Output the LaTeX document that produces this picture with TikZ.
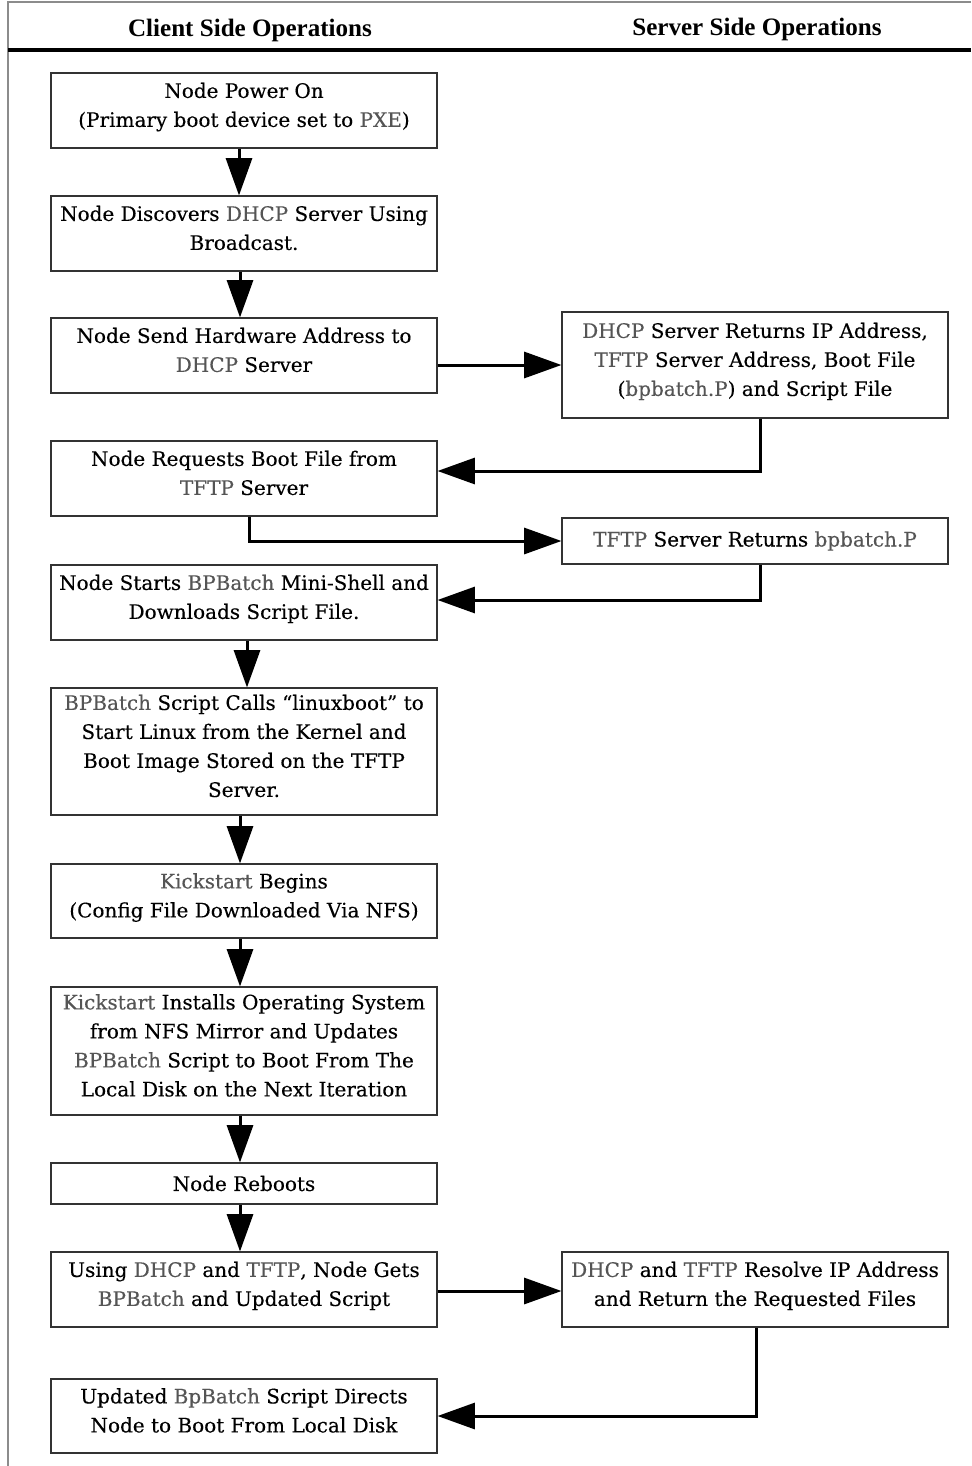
\documentclass[tikz,border=0pt]{standalone}
\usepackage{fontspec}
\setmainfont{DejaVu Serif}[FakeBold=0.3]
\newfontfamily\hdfont{Liberation Serif}
\usetikzlibrary{arrows.meta,calc}
\definecolor{hlgray}{RGB}{85,85,85}
\definecolor{framegray}{RGB}{140,140,140}
\newcommand\hlt[1]{\textcolor{hlgray}{#1}}
\newcommand\bstrut{\rule[-8.5pt]{0pt}{0pt}}
\begin{document}
\begin{tikzpicture}[x=0.75pt,y=-0.75pt,
  box/.style={draw=black!80, line width=0.8pt, minimum width=289.5pt, inner sep=0pt, align=center, font=\fontsize{15}{21.75}\selectfont},
  arr/.style={line width=2.25pt, -{Triangle[length=28pt,width=19.5pt]}},
  hd/.style={font=\hdfont\bfseries\fontsize{18.8}{22}\selectfont}]
\useasboundingbox (0,0) rectangle (971,1466);
% frame
\draw[framegray, line width=1.5pt] (8,1466) -- (8,2) -- (971,2);
\draw[line width=3pt] (8,50) -- (971,50);
\node[hd] (hc) at (250,30) {Client Side Operations};
\node[hd] (hs) at (757,29) {Server Side Operations};
% left column
\node[box, minimum height=56.25pt] (b1) at (244,110.5) {Node Power On\\(Primary boot device set to \hlt{PXE})\bstrut};
\node[box, minimum height=56.25pt] (b2) at (244,233.5) {Node Discovers \hlt{DHCP} Server Using\\Broadcast.\bstrut};
\node[box, minimum height=56.25pt] (b3) at (244,355.5) {Node Send Hardware Address to\\\hlt{DHCP} Server\bstrut};
\node[box, minimum height=56.25pt] (b4) at (244,478.5) {Node Requests Boot File from\\\hlt{TFTP} Server\bstrut};
\node[box, minimum height=56.25pt] (b5) at (244,602.5) {Node Starts \hlt{BPBatch} Mini-Shell and\\Downloads Script File.\bstrut};
\node[box, minimum height=95.25pt] (b6) at (244,751.5) {\hlt{BPBatch} Script Calls “linuxboot” to\\Start Linux from the Kernel and\\Boot Image Stored on the TFTP\\Server.\bstrut};
\node[box, minimum height=55.5pt] (b7) at (244,901) {\hlt{Kickstart} Begins\\(Config File Downloaded Via NFS)\bstrut};
\node[box, minimum height=96pt] (b8) at (244,1051) {\hlt{Kickstart} Installs Operating System\\from NFS Mirror and Updates\\\hlt{BPBatch} Script to Boot From The\\Local Disk on the Next Iteration\bstrut};
\node[box, minimum height=30.75pt] (b9) at (244,1183.5) {Node Reboots};
\node[box, minimum height=56.25pt] (b10) at (244,1289.5) {Using \hlt{DHCP} and \hlt{TFTP}, Node Gets\\\hlt{BPBatch} and Updated Script\bstrut};
\node[box, minimum height=55.5pt] (b11) at (244,1416) {Updated \hlt{BpBatch} Script Directs\\Node to Boot From Local Disk\bstrut};
% right column
\node[box, minimum height=79.5pt] (s1) at (755,365) {\hlt{DHCP} Server Returns IP Address,\\\hlt{TFTP} Server Address, Boot File\\(\hlt{bpbatch.P}) and Script File\bstrut};
\node[box, minimum height=34.5pt] (s2) at (755,541) {\hlt{TFTP} Server Returns \hlt{bpbatch.P}};
\node[box, minimum height=56.25pt] (s3) at (755,1289.5) {\hlt{DHCP} and \hlt{TFTP} Resolve IP Address\\and Return the Requested Files\bstrut};
% connectors
\draw[arr] ($(b1.south)+(-5,0)$) -- ($(b2.north)+(-5,0)$);
\draw[arr] ($(b2.south)+(-4,0)$) -- ($(b3.north)+(-4,0)$);
\draw[arr] (b3.east |- s1.west) -- (s1.west);
\draw[arr] ($(s1.south)+(5,0)$) |- ($(b4.east)+(0,-7.5)$);
\draw[arr] ($(b4.south)+(5,0)$) |- (s2.west);
\draw[arr] ($(s2.south)+(5,0)$) |- ($(b5.east)+(0,-2.5)$);
\draw[arr] ($(b5.south)+(3,0)$) -- ($(b6.north)+(3,0)$);
\draw[arr] ($(b6.south)+(-4,0)$) -- ($(b7.north)+(-4,0)$);
\draw[arr] ($(b7.south)+(-4,0)$) -- ($(b8.north)+(-4,0)$);
\draw[arr] ($(b8.south)+(-4,0)$) -- ($(b9.north)+(-4,0)$);
\draw[arr] ($(b9.south)+(-4,0)$) -- ($(b10.north)+(-4,0)$);
\draw[arr] ($(b10.east)+(0,1.5)$) -- ($(b10.east -| s3.west)+(0,1.5)$);
\draw[arr] ($(s3.south)+(1,0)$) |- (b11.east);
\end{tikzpicture}
\end{document}
